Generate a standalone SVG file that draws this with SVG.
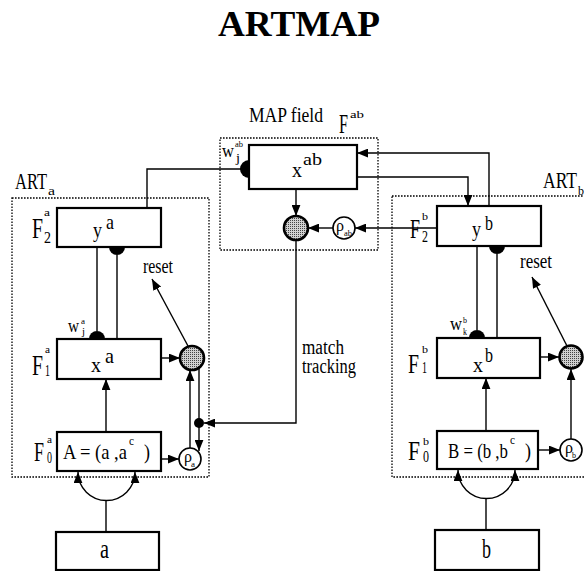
<svg xmlns="http://www.w3.org/2000/svg" width="584" height="571" viewBox="0 0 584 571">
<defs>
<style>
text{font-family:"Liberation Serif","Times New Roman",serif;fill:#000}
.t{font-weight:bold}
.box{fill:#fff;stroke:#000;stroke-width:2.2}
.dot{fill:none;stroke:#000;stroke-width:1.3;stroke-dasharray:1.6 1.4}
.ln{fill:none;stroke:#000;stroke-width:1.4}
.ar{marker-end:url(#arr)}
.cmp{fill:url(#stip);stroke:#000;stroke-width:2.6}
.rho{fill:#fff;stroke:#000;stroke-width:1.6}
.hd{fill:#000}
</style>
<pattern id="stip" width="2" height="2" patternUnits="userSpaceOnUse"><rect width="2" height="2" fill="#d0d0d0"/><rect width="1" height="1" fill="#444"/></pattern>
<marker id="arr" markerUnits="userSpaceOnUse" markerWidth="11" markerHeight="9" refX="10" refY="4" orient="auto-start-reverse" viewBox="0 0 10 8"><path d="M0,0 L10,4 L0,8 z" fill="#000"/></marker>
</defs>
<rect width="584" height="571" fill="#fff"/>
<text class="t" x="218" y="36" font-size="36" textLength="162" lengthAdjust="spacingAndGlyphs">ARTMAP</text>

<g id="connectors">
<path class="ln" d="M147,208 V169 H241"/>
<path class="ln" d="M97,247 V331"/>
<path class="ln" d="M117,255 V339"/>
<path class="ln ar" d="M161,358 H180"/>
<path class="ln ar" d="M106,432 V379"/>
<path class="ln ar" d="M161,459 H179"/>
<path class="ln ar" d="M190,448 V370"/>
<path class="ln ar" d="M199,368 V451"/>
<path class="ln ar" d="M188,346 L152,279"/>
<path class="ln ar" d="M296,240 V423 H204"/>
<path class="ln" d="M78,472 A28.5,28.5 0 0,0 135,472" marker-start="url(#arr)" marker-end="url(#arr)"/>
<path class="ln" d="M106,532 V500"/>
<path class="ln ar" d="M296,189 V216"/>
<path class="ln ar" d="M333,228 H308"/>
<path class="ln ar" d="M437,228 H355"/>
<path class="ln ar" d="M489,206 V153 H357"/>
<path class="ln ar" d="M357,177 H468 V206"/>
<path class="ln" d="M477,246 V330"/>
<path class="ln" d="M497,254 V338"/>
<path class="ln ar" d="M541,357 H559"/>
<path class="ln ar" d="M486,431 V378"/>
<path class="ln ar" d="M538,450 H560"/>
<path class="ln ar" d="M571,439 V369"/>
<path class="ln ar" d="M567,346 L532,277"/>
<path class="ln" d="M458,470 A28.5,28.5 0 0,0 515,470" marker-start="url(#arr)" marker-end="url(#arr)"/>
<path class="ln" d="M486,530 V499"/>
<circle cx="199" cy="423" r="5" fill="#000"/>
</g>

<g id="map-field">
<rect class="dot" x="220" y="138" width="158" height="112"/>
<text x="249" y="122" font-size="22" textLength="74" lengthAdjust="spacingAndGlyphs">MAP field</text>
<text x="339" y="133" font-size="27" textLength="9" lengthAdjust="spacingAndGlyphs">F</text>
<text x="350" y="118" font-size="10" textLength="14" lengthAdjust="spacingAndGlyphs">ab</text>
</g>
<g id="xab">
<rect class="box" x="249" y="145" width="108" height="44"/>
<text x="292" y="177" font-size="22" textLength="10" lengthAdjust="spacingAndGlyphs">x</text>
<text x="303" y="165" font-size="17" textLength="19" lengthAdjust="spacingAndGlyphs">ab</text>
<path class="hd" d="M249,160 A9,9 0 0,0 249,178 Z"/>
<text x="222" y="157" font-size="19" textLength="12" lengthAdjust="spacingAndGlyphs">w</text>
<text x="235" y="147" font-size="9" textLength="8" lengthAdjust="spacingAndGlyphs">ab</text>
<text x="236" y="162" font-size="12" textLength="4" lengthAdjust="spacingAndGlyphs">j</text>
</g>
<g id="match-ab"><circle class="cmp" cx="296" cy="228" r="12"/></g>
<g id="rho-ab">
<circle class="rho" cx="344" cy="228" r="11"/>
<text x="336" y="231" font-size="17" textLength="8" lengthAdjust="spacingAndGlyphs">ρ</text>
<text x="344" y="236" font-size="8" textLength="8" lengthAdjust="spacingAndGlyphs">ab</text>
</g>
<g id="match-tracking-label">
<text x="302" y="354" font-size="20" textLength="42" lengthAdjust="spacingAndGlyphs">match</text>
<text x="302" y="373" font-size="20" textLength="54" lengthAdjust="spacingAndGlyphs">tracking</text>
</g>

<g id="art-a">
<rect class="dot" x="12" y="198" width="197" height="279"/>
<text x="15" y="189" font-size="24" textLength="32" lengthAdjust="spacingAndGlyphs">ART</text>
<text x="48" y="195" font-size="12" textLength="7" lengthAdjust="spacingAndGlyphs">a</text>
</g>
<g id="f2a">
<rect class="box" x="57" y="208" width="104" height="39"/>
<text x="93" y="237" font-size="21" textLength="9" lengthAdjust="spacingAndGlyphs">y</text>
<text x="106" y="229" font-size="21" textLength="8" lengthAdjust="spacingAndGlyphs">a</text>
<text x="32" y="238" font-size="30" textLength="11" lengthAdjust="spacingAndGlyphs">F</text>
<text x="44" y="216" font-size="11" textLength="6" lengthAdjust="spacingAndGlyphs">a</text>
<text x="44" y="243" font-size="17" textLength="7" lengthAdjust="spacingAndGlyphs">2</text>
<path class="hd" d="M109,247 A8,8 0 0,0 125,247 Z"/>
</g>
<g id="reset-a-label"><text x="143" y="273" font-size="22" textLength="30" lengthAdjust="spacingAndGlyphs">reset</text></g>
<g id="f1a">
<rect class="box" x="57" y="339" width="104" height="40"/>
<text x="91" y="372" font-size="22" textLength="10" lengthAdjust="spacingAndGlyphs">x</text>
<text x="105" y="363" font-size="21" textLength="9" lengthAdjust="spacingAndGlyphs">a</text>
<text x="32" y="375" font-size="30" textLength="11" lengthAdjust="spacingAndGlyphs">F</text>
<text x="45" y="353" font-size="11" textLength="5" lengthAdjust="spacingAndGlyphs">a</text>
<text x="45" y="376" font-size="17" textLength="5" lengthAdjust="spacingAndGlyphs">1</text>
<path class="hd" d="M89,339 A8,8 0 0,1 105,339 Z"/>
<text x="68" y="332" font-size="18" textLength="11" lengthAdjust="spacingAndGlyphs">w</text>
<text x="81" y="324" font-size="9" textLength="4" lengthAdjust="spacingAndGlyphs">a</text>
<text x="82" y="335" font-size="10" textLength="3" lengthAdjust="spacingAndGlyphs">j</text>
</g>
<g id="reset-a"><circle class="cmp" cx="192" cy="358" r="12"/></g>
<g id="f0a">
<rect class="box" x="57" y="432" width="104" height="39"/>
<text x="63" y="459" font-size="21" textLength="64" lengthAdjust="spacingAndGlyphs">A = (a ,a</text>
<text x="129" y="445" font-size="12" textLength="5" lengthAdjust="spacingAndGlyphs">c</text>
<text x="144" y="459" font-size="21" textLength="6" lengthAdjust="spacingAndGlyphs">)</text>
<text x="34" y="461" font-size="27" textLength="10" lengthAdjust="spacingAndGlyphs">F</text>
<text x="47" y="443" font-size="11" textLength="5" lengthAdjust="spacingAndGlyphs">a</text>
<text x="47" y="463" font-size="16" textLength="5" lengthAdjust="spacingAndGlyphs">0</text>
</g>
<g id="rho-a">
<circle class="rho" cx="190" cy="459" r="11"/>
<text x="184" y="462" font-size="17" textLength="8" lengthAdjust="spacingAndGlyphs">ρ</text>
<text x="191" y="467" font-size="8" textLength="4" lengthAdjust="spacingAndGlyphs">a</text>
</g>
<g id="input-a">
<rect class="box" x="56" y="532" width="103" height="38"/>
<text x="100" y="558" font-size="28" textLength="9" lengthAdjust="spacingAndGlyphs">a</text>
</g>

<g id="art-b">
<rect class="dot" x="392" y="196" width="200" height="281"/>
<text x="543" y="188" font-size="24" textLength="34" lengthAdjust="spacingAndGlyphs">ART</text>
<text x="578" y="195" font-size="12" textLength="6" lengthAdjust="spacingAndGlyphs">b</text>
</g>
<g id="f2b">
<rect class="box" x="437" y="206" width="104" height="40"/>
<text x="472" y="236" font-size="21" textLength="9" lengthAdjust="spacingAndGlyphs">y</text>
<text x="485" y="230" font-size="21" textLength="8" lengthAdjust="spacingAndGlyphs">b</text>
<text x="410" y="238" font-size="28" textLength="10" lengthAdjust="spacingAndGlyphs">F</text>
<text x="422" y="220" font-size="11" textLength="6" lengthAdjust="spacingAndGlyphs">b</text>
<text x="422" y="242" font-size="17" textLength="6" lengthAdjust="spacingAndGlyphs">2</text>
<path class="hd" d="M489,246 A8,8 0 0,0 505,246 Z"/>
</g>
<g id="reset-b-label"><text x="520" y="268" font-size="22" textLength="32" lengthAdjust="spacingAndGlyphs">reset</text></g>
<g id="f1b">
<rect class="box" x="437" y="338" width="103" height="40"/>
<text x="473" y="372" font-size="22" textLength="10" lengthAdjust="spacingAndGlyphs">x</text>
<text x="485" y="362" font-size="21" textLength="8" lengthAdjust="spacingAndGlyphs">b</text>
<text x="408" y="373" font-size="28" textLength="11" lengthAdjust="spacingAndGlyphs">F</text>
<text x="422" y="353" font-size="11" textLength="6" lengthAdjust="spacingAndGlyphs">b</text>
<text x="422" y="373" font-size="17" textLength="5" lengthAdjust="spacingAndGlyphs">1</text>
<path class="hd" d="M469,338 A8,8 0 0,1 485,338 Z"/>
<text x="450" y="330" font-size="18" textLength="12" lengthAdjust="spacingAndGlyphs">w</text>
<text x="463" y="323" font-size="9" textLength="4" lengthAdjust="spacingAndGlyphs">b</text>
<text x="463" y="335" font-size="10" textLength="4" lengthAdjust="spacingAndGlyphs">k</text>
</g>
<g id="reset-b"><circle class="cmp" cx="571" cy="357" r="11.5"/></g>
<g id="f0b">
<rect class="box" x="437" y="431" width="101" height="38"/>
<text x="448" y="458" font-size="21" textLength="60" lengthAdjust="spacingAndGlyphs">B = (b ,b</text>
<text x="510" y="444" font-size="12" textLength="5" lengthAdjust="spacingAndGlyphs">c</text>
<text x="525" y="458" font-size="21" textLength="6" lengthAdjust="spacingAndGlyphs">)</text>
<text x="408" y="460" font-size="27" textLength="12" lengthAdjust="spacingAndGlyphs">F</text>
<text x="423" y="445" font-size="11" textLength="6" lengthAdjust="spacingAndGlyphs">b</text>
<text x="423" y="462" font-size="16" textLength="6" lengthAdjust="spacingAndGlyphs">0</text>
</g>
<g id="rho-b">
<circle class="rho" cx="571" cy="450" r="11"/>
<text x="565" y="453" font-size="17" textLength="8" lengthAdjust="spacingAndGlyphs">ρ</text>
<text x="572" y="458" font-size="8" textLength="4" lengthAdjust="spacingAndGlyphs">b</text>
</g>
<g id="input-b">
<rect class="box" x="435" y="530" width="104" height="40"/>
<text x="482" y="558" font-size="28" textLength="9" lengthAdjust="spacingAndGlyphs">b</text>
</g>
</svg>
